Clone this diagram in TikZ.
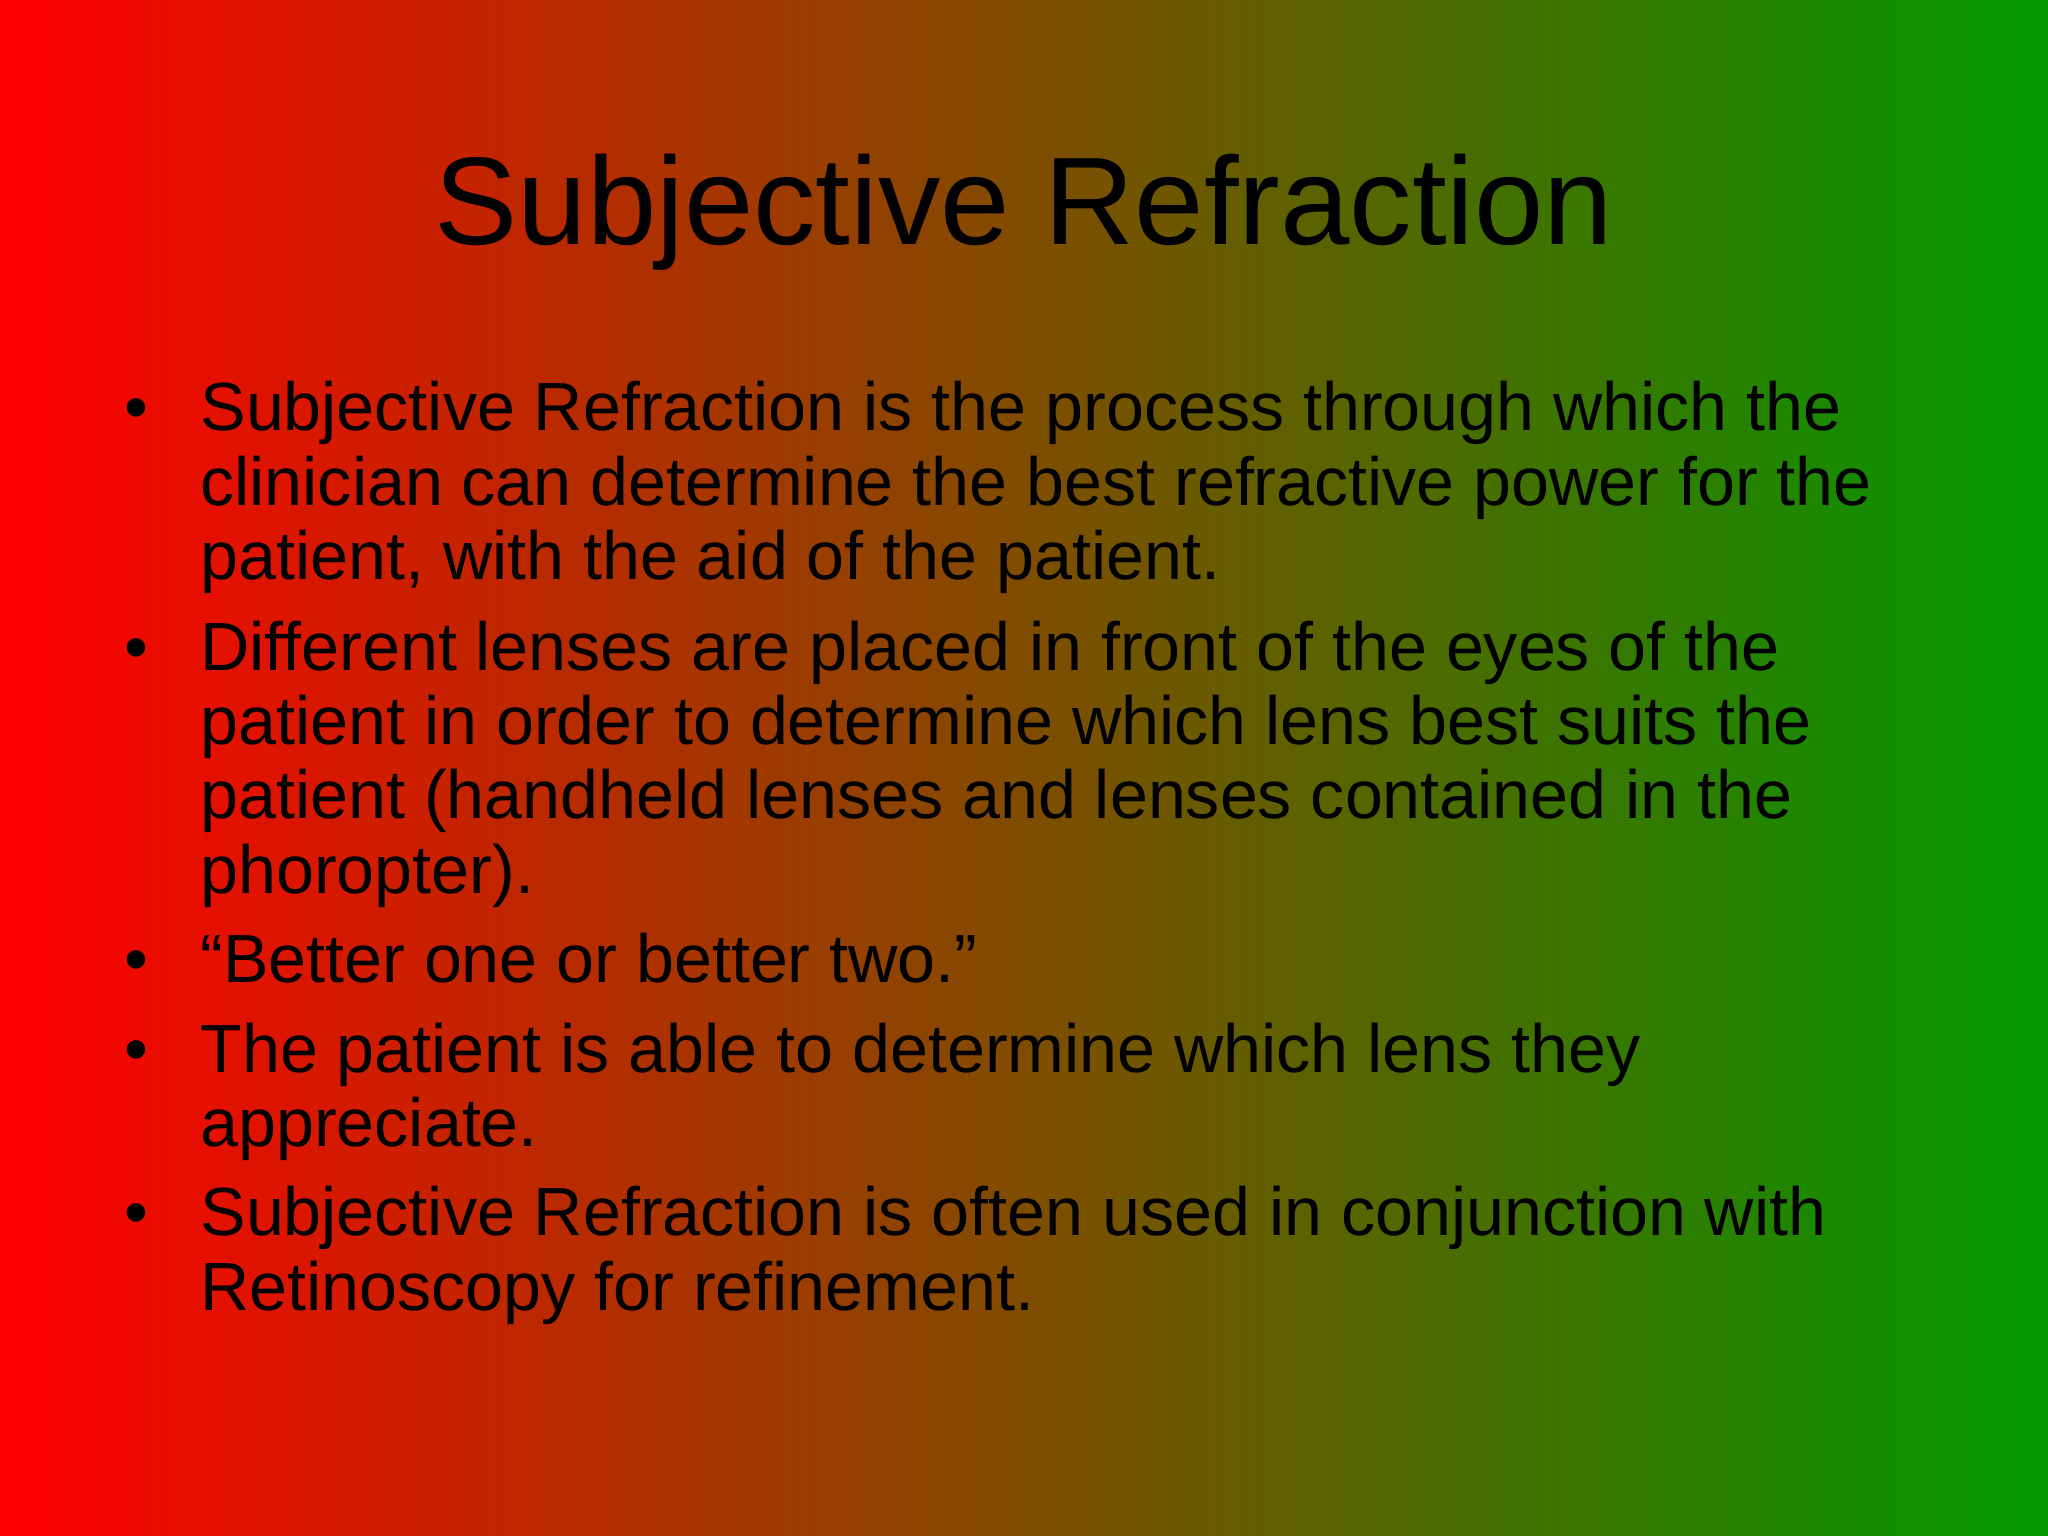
\documentclass[tikz,border=0pt]{standalone}
\usepackage{fontspec}
\setmainfont{Liberation Sans}
\definecolor{gl}{RGB}{0,153,0}
\definecolor{rl}{RGB}{255,0,0}
\begin{document}
\begin{tikzpicture}[x=0.013061cm,y=0.013061cm,
  body/.style={anchor=base west,inner sep=0pt,font=\fontsize{19.4pt}{21pt}\selectfont}]
\shade[left color=rl,right color=gl] (0,0) rectangle (1568,1176);
\useasboundingbox (0,0) rectangle (1568,1176);
\node[anchor=base,inner sep=0pt,font=\fontsize{35.5pt}{42pt}\selectfont] (title) at (784,989) {Subjective Refraction};
\foreach \n/\y in {1/846,2/663,3/424,4/355,5/230}{
  \node[body] (b\n) at (95,\y) {\textbullet};}
\node[body] (l1) at (153,846) {Subjective Refraction is the process through which the};
\node[body] (l2) at (153,789) {clinician can determine the best refractive power for the};
\node[body] (l3) at (153,732) {patient, with the aid of the patient.};
\node[body] (l4) at (153,663) {Different lenses are placed in front of the eyes of the};
\node[body] (l5) at (153,606) {patient in order to determine which lens best suits the};
\node[body] (l6) at (153,549) {patient (handheld lenses and lenses contained in the};
\node[body] (l7) at (153,492) {phoropter).};
\node[body] (l8) at (153,424) {“Better one or better two.”};
\node[body] (l9) at (153,355) {The patient is able to determine which lens they};
\node[body] (l10) at (153,298) {appreciate.};
\node[body] (l11) at (153,230) {Subjective Refraction is often used in conjunction with};
\node[body] (l12) at (153,173) {Retinoscopy for refinement.};
\end{tikzpicture}
\end{document}
